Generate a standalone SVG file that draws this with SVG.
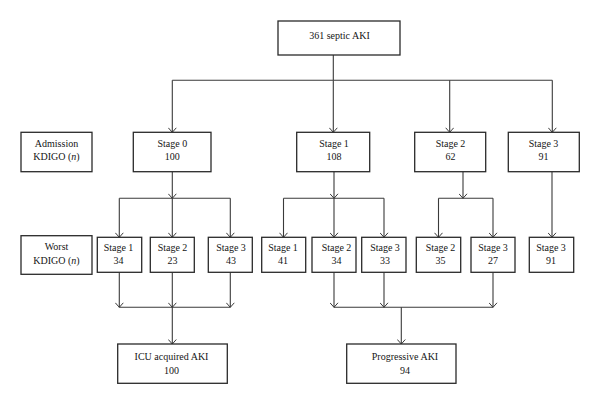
<svg xmlns="http://www.w3.org/2000/svg" width="600" height="404" viewBox="0 0 600 404">
<style>
.box{fill:#fff;stroke:#2a2a2a;stroke-width:1.3}
.ln{fill:none;stroke:#3a3a3a;stroke-width:1.1}
.ar{marker-end:url(#ah)}
text{font-family:"Liberation Serif","Times New Roman",serif;font-size:10px;fill:#151515;text-anchor:middle}
</style>
<defs>
<marker id="ah" markerUnits="userSpaceOnUse" markerWidth="6" markerHeight="9" viewBox="0 0 6 9" refX="5.5" refY="4.5" orient="auto">
<path d="M1,0.5 L5.5,4.5 L1,8.5" fill="none" stroke="#3a3a3a" stroke-width="1"/>
</marker>
</defs>
<rect width="600" height="404" fill="#fff"/>
<g id="connectors">
<path class="ln" d="M333.3,55 V80.3 M172.3,80.3 H552.3"/>
<path class="ln ar" d="M172.3,80.3 V132.3"/>
<path class="ln ar" d="M333.3,80.3 V132.3"/>
<path class="ln ar" d="M449.7,80.3 V132.3"/>
<path class="ln ar" d="M552.3,80.3 V132.3"/>
<path class="ln ar" d="M172.3,171.7 V198.3"/>
<path class="ln" d="M119.3,198.3 H230.3"/>
<path class="ln ar" d="M119.3,198.3 V237.3"/>
<path class="ln ar" d="M172.3,198.3 V237.3"/>
<path class="ln ar" d="M230.3,198.3 V237.3"/>
<path class="ln ar" d="M334,171.7 V198.3"/>
<path class="ln" d="M283.5,198.3 H384"/>
<path class="ln ar" d="M283.5,198.3 V237.3"/>
<path class="ln ar" d="M334,198.3 V237.3"/>
<path class="ln ar" d="M384,198.3 V237.3"/>
<path class="ln ar" d="M463,171.7 V198.3"/>
<path class="ln" d="M438.5,198.3 H493"/>
<path class="ln ar" d="M438.5,198.3 V237.3"/>
<path class="ln ar" d="M493,198.3 V237.3"/>
<path class="ln ar" d="M552,171.7 V237.3"/>
<path class="ln ar" d="M119.3,272.3 V307.3"/>
<path class="ln ar" d="M172.3,272.3 V307.3"/>
<path class="ln ar" d="M230.3,272.3 V307.3"/>
<path class="ln" d="M119.3,307.3 H230.3"/>
<path class="ln ar" d="M172.3,307.3 V344"/>
<path class="ln ar" d="M334,272.3 V307.3"/>
<path class="ln ar" d="M384,272.3 V307.3"/>
<path class="ln ar" d="M493,272.3 V307.3"/>
<path class="ln" d="M334,307.3 H493"/>
<path class="ln ar" d="M401.3,307.3 V344"/>
</g>
<g id="n-total"><rect class="box" x="278" y="21" width="122" height="34"/><text x="339.5" y="38.8">361 septic AKI</text></g>
<g id="n-adm-label"><rect class="box" x="21" y="132.3" width="71" height="39.4"/><text x="56.5" y="146.7">Admission</text><text x="56.5" y="160">KDIGO (<tspan font-style="italic">n</tspan>)</text></g>
<g id="n-adm0"><rect class="box" x="133.3" y="132.3" width="77.7" height="39.4"/><text x="172.3" y="146.7">Stage 0</text><text x="172.3" y="160">100</text></g>
<g id="n-adm1"><rect class="box" x="296.7" y="132.3" width="73" height="39.4"/><text x="334" y="146.7">Stage 1</text><text x="334" y="160">108</text></g>
<g id="n-adm2"><rect class="box" x="414.7" y="132.3" width="71" height="39.4"/><text x="450.5" y="146.7">Stage 2</text><text x="450.5" y="160">62</text></g>
<g id="n-adm3"><rect class="box" x="508.3" y="132.3" width="71" height="39.4"/><text x="543.5" y="146.7">Stage 3</text><text x="543.5" y="160">91</text></g>
<g id="n-worst-label"><rect class="box" x="21" y="235.7" width="71" height="38.6"/><text x="56.5" y="250.2">Worst</text><text x="56.5" y="263.5">KDIGO (<tspan font-style="italic">n</tspan>)</text></g>
<g id="n-w01"><rect class="box" x="97.3" y="237.3" width="44.4" height="35"/><text x="118.5" y="250.8">Stage 1</text><text x="118.5" y="264">34</text></g>
<g id="n-w02"><rect class="box" x="150.3" y="237.3" width="44" height="35"/><text x="172.5" y="250.8">Stage 2</text><text x="172.5" y="264">23</text></g>
<g id="n-w03"><rect class="box" x="208.3" y="237.3" width="44" height="35"/><text x="231" y="250.8">Stage 3</text><text x="231" y="264">43</text></g>
<g id="n-w11"><rect class="box" x="261.7" y="237.3" width="44" height="35"/><text x="283" y="250.8">Stage 1</text><text x="283" y="264">41</text></g>
<g id="n-w12"><rect class="box" x="312" y="237.3" width="44" height="35"/><text x="336.5" y="250.8">Stage 2</text><text x="336.5" y="264">34</text></g>
<g id="n-w13"><rect class="box" x="361.7" y="237.3" width="44.3" height="35"/><text x="385" y="250.8">Stage 3</text><text x="385" y="264">33</text></g>
<g id="n-w22"><rect class="box" x="416.3" y="237.3" width="44.4" height="35"/><text x="440.5" y="250.8">Stage 2</text><text x="440.5" y="264">35</text></g>
<g id="n-w23"><rect class="box" x="471" y="237.3" width="44" height="35"/><text x="493" y="250.8">Stage 3</text><text x="493" y="264">27</text></g>
<g id="n-w33"><rect class="box" x="529.3" y="237.3" width="44.4" height="35"/><text x="551" y="250.8">Stage 3</text><text x="551" y="264">91</text></g>
<g id="n-icu"><rect class="box" x="117.7" y="344" width="109.6" height="39.3"/><text x="171.5" y="360.3">ICU acquired AKI</text><text x="171.5" y="374.3">100</text></g>
<g id="n-prog"><rect class="box" x="346.7" y="344" width="109.3" height="39.3"/><text x="405" y="360.3">Progressive AKI</text><text x="405" y="374.3">94</text></g>
</svg>
